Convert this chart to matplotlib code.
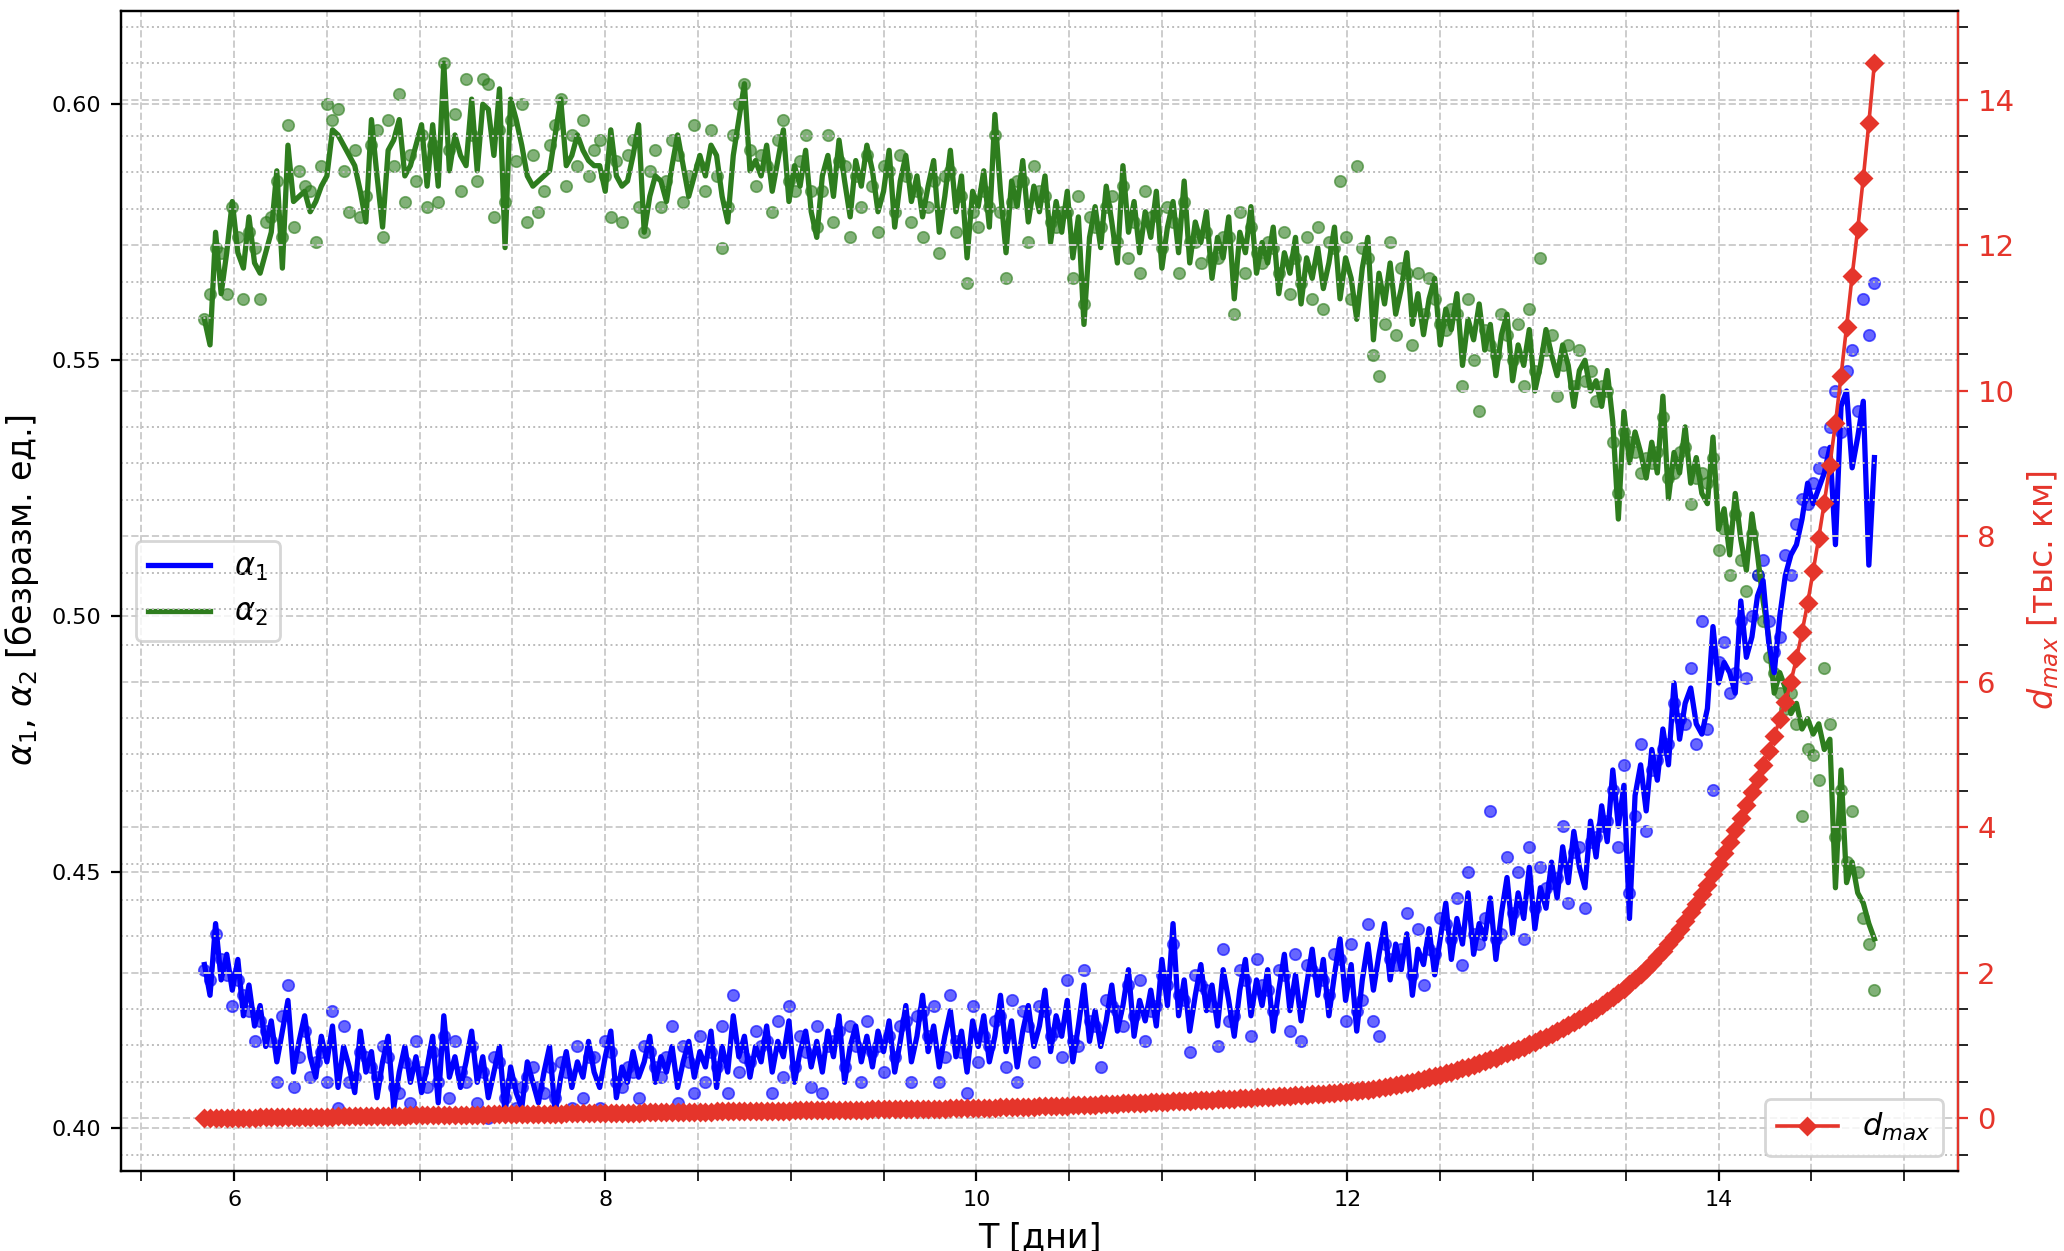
import matplotlib
matplotlib.use('Agg')
import matplotlib.pyplot as plt
from matplotlib.ticker import MultipleLocator

# time axis, days
t_days = [
    5.84, 5.87, 5.90, 5.93, 5.96, 5.99, 6.02, 6.05, 6.08, 6.11,
    6.14, 6.17, 6.20, 6.23, 6.26, 6.29, 6.32, 6.35, 6.38, 6.41,
    6.44, 6.47, 6.50, 6.53, 6.56, 6.59, 6.62, 6.65, 6.68, 6.71,
    6.74, 6.77, 6.80, 6.83, 6.86, 6.89, 6.92, 6.95, 6.98, 7.01,
    7.04, 7.07, 7.10, 7.13, 7.16, 7.19, 7.22, 7.25, 7.28, 7.31,
    7.34, 7.37, 7.40, 7.43, 7.46, 7.49, 7.52, 7.55, 7.58, 7.61,
    7.64, 7.67, 7.70, 7.73, 7.76, 7.79, 7.82, 7.85, 7.88, 7.91,
    7.94, 7.97, 8.00, 8.03, 8.06, 8.09, 8.12, 8.15, 8.18, 8.21,
    8.24, 8.27, 8.30, 8.33, 8.36, 8.39, 8.42, 8.45, 8.48, 8.51,
    8.54, 8.57, 8.60, 8.63, 8.66, 8.69, 8.72, 8.75, 8.78, 8.81,
    8.84, 8.87, 8.90, 8.93, 8.96, 8.99, 9.02, 9.05, 9.08, 9.11,
    9.14, 9.17, 9.20, 9.23, 9.26, 9.29, 9.32, 9.35, 9.38, 9.41,
    9.44, 9.47, 9.50, 9.53, 9.56, 9.59, 9.62, 9.65, 9.68, 9.71,
    9.74, 9.77, 9.80, 9.83, 9.86, 9.89, 9.92, 9.95, 9.98, 10.01,
    10.04, 10.07, 10.10, 10.13, 10.16, 10.19, 10.22, 10.25, 10.28, 10.31,
    10.34, 10.37, 10.40, 10.43, 10.46, 10.49, 10.52, 10.55, 10.58, 10.61,
    10.64, 10.67, 10.70, 10.73, 10.76, 10.79, 10.82, 10.85, 10.88, 10.91,
    10.94, 10.97, 11.00, 11.03, 11.06, 11.09, 11.12, 11.15, 11.18, 11.21,
    11.24, 11.27, 11.30, 11.33, 11.36, 11.39, 11.42, 11.45, 11.48, 11.51,
    11.54, 11.57, 11.60, 11.63, 11.66, 11.69, 11.72, 11.75, 11.78, 11.81,
    11.84, 11.87, 11.90, 11.93, 11.96, 11.99, 12.02, 12.05, 12.08, 12.11,
    12.14, 12.17, 12.20, 12.23, 12.26, 12.29, 12.32, 12.35, 12.38, 12.41,
    12.44, 12.47, 12.50, 12.53, 12.56, 12.59, 12.62, 12.65, 12.68, 12.71,
    12.74, 12.77, 12.80, 12.83, 12.86, 12.89, 12.92, 12.95, 12.98, 13.01,
    13.04, 13.07, 13.10, 13.13, 13.16, 13.19, 13.22, 13.25, 13.28, 13.31,
    13.34, 13.37, 13.40, 13.43, 13.46, 13.49, 13.52, 13.55, 13.58, 13.61,
    13.64, 13.67, 13.70, 13.73, 13.76, 13.79, 13.82, 13.85, 13.88, 13.91,
    13.94, 13.97, 14.00, 14.03, 14.06, 14.09, 14.12, 14.15, 14.18, 14.21,
    14.24, 14.27, 14.30, 14.33, 14.36, 14.39, 14.42, 14.45, 14.48, 14.51,
    14.54, 14.57, 14.60, 14.63, 14.66, 14.69, 14.72, 14.75, 14.78, 14.81,
    14.84,
]

alpha1_line = [
    0.432, 0.426, 0.440, 0.429, 0.434, 0.427, 0.433, 0.422, 0.428, 0.420,
    0.424, 0.416, 0.421, 0.413, 0.419, 0.425, 0.411, 0.417, 0.422, 0.414,
    0.410, 0.418, 0.413, 0.420, 0.408, 0.416, 0.412, 0.407, 0.419, 0.411,
    0.415, 0.406, 0.413, 0.418, 0.404, 0.411, 0.416, 0.409, 0.414, 0.407,
    0.412, 0.418, 0.405, 0.422, 0.410, 0.414, 0.408, 0.413, 0.419, 0.409,
    0.414, 0.406, 0.411, 0.416, 0.403, 0.412, 0.407, 0.404, 0.413, 0.409,
    0.405, 0.411, 0.416, 0.403, 0.410, 0.415, 0.408, 0.413, 0.410, 0.417,
    0.411, 0.408, 0.414, 0.419, 0.406, 0.412, 0.409, 0.415, 0.410, 0.413,
    0.418, 0.409, 0.414, 0.411, 0.416, 0.408, 0.413, 0.417, 0.410, 0.415,
    0.412, 0.419, 0.408, 0.416, 0.411, 0.422, 0.414, 0.418, 0.410, 0.416,
    0.413, 0.420, 0.411, 0.417, 0.414, 0.421, 0.409, 0.415, 0.419, 0.412,
    0.417, 0.411, 0.419, 0.414, 0.422, 0.409, 0.416, 0.420, 0.413, 0.418,
    0.412, 0.419, 0.415, 0.421, 0.411, 0.417, 0.424, 0.413, 0.418, 0.426,
    0.415, 0.420, 0.412, 0.418, 0.423, 0.414, 0.419, 0.411, 0.421, 0.416,
    0.422, 0.413, 0.418, 0.426, 0.415, 0.421, 0.412, 0.419, 0.424, 0.416,
    0.420, 0.427, 0.415, 0.422, 0.418, 0.425, 0.413, 0.420, 0.428, 0.417,
    0.423, 0.416, 0.421, 0.428, 0.419, 0.424, 0.431, 0.418, 0.425, 0.421,
    0.427, 0.420, 0.433, 0.424, 0.440, 0.422, 0.429, 0.419, 0.426, 0.432,
    0.423, 0.428, 0.420, 0.431, 0.425, 0.418, 0.427, 0.433, 0.422, 0.429,
    0.424, 0.431, 0.419, 0.427, 0.434, 0.423, 0.430, 0.421, 0.428, 0.435,
    0.426, 0.433, 0.422, 0.430, 0.437, 0.425, 0.432, 0.419, 0.429, 0.436,
    0.427, 0.434, 0.440, 0.429, 0.436, 0.431, 0.438, 0.426, 0.435, 0.432,
    0.439, 0.430, 0.437, 0.444, 0.433, 0.441, 0.436, 0.446, 0.434, 0.440,
    0.437, 0.445, 0.433, 0.442, 0.449, 0.438, 0.446, 0.441, 0.451, 0.439,
    0.447, 0.443, 0.452, 0.445, 0.455, 0.448, 0.458, 0.451, 0.447, 0.460,
    0.453, 0.463, 0.456, 0.470, 0.459, 0.467, 0.441, 0.465, 0.471, 0.462,
    0.474, 0.468, 0.478, 0.471, 0.487, 0.476, 0.483, 0.486, 0.479, 0.477,
    0.482, 0.498, 0.487, 0.491, 0.489, 0.485, 0.503, 0.492, 0.496, 0.504,
    0.507, 0.495, 0.489, 0.500, 0.508, 0.512, 0.514, 0.519, 0.526, 0.522,
    0.525, 0.528, 0.533, 0.514, 0.541, 0.544, 0.529, 0.535, 0.542, 0.510,
    0.531,
]

alpha1_pts = [
    0.431, 0.429, 0.438, 0.433, 0.430, 0.424, 0.429, 0.426, 0.423, 0.417,
    0.421, 0.419, 0.417, 0.409, 0.422, 0.428, 0.408, 0.414, 0.419, 0.410,
    0.413, 0.415, 0.409, 0.423, 0.404, 0.420, 0.409, 0.410, 0.415, 0.414,
    0.412, 0.410, 0.416, 0.414, 0.408, 0.407, 0.413, 0.405, 0.417, 0.411,
    0.408, 0.415, 0.409, 0.418, 0.406, 0.417, 0.411, 0.409, 0.416, 0.405,
    0.411, 0.402, 0.414, 0.413, 0.406, 0.409, 0.404, 0.408, 0.410, 0.412,
    0.408, 0.407, 0.412, 0.406, 0.413, 0.411, 0.404, 0.416, 0.406, 0.414,
    0.414, 0.404, 0.417, 0.415, 0.409, 0.408, 0.412, 0.411, 0.406, 0.416,
    0.415, 0.412, 0.410, 0.414, 0.420, 0.405, 0.416, 0.413, 0.407, 0.418,
    0.409, 0.415, 0.412, 0.420, 0.407, 0.426, 0.411, 0.414, 0.413, 0.419,
    0.416, 0.417, 0.407, 0.421, 0.410, 0.424, 0.412, 0.418, 0.415, 0.408,
    0.420, 0.407, 0.416, 0.417, 0.419, 0.412, 0.420, 0.416, 0.409, 0.421,
    0.415, 0.416, 0.411, 0.418, 0.414, 0.420, 0.421, 0.409, 0.422, 0.423,
    0.418, 0.424, 0.409, 0.414, 0.426, 0.417, 0.415, 0.407, 0.424, 0.413,
    0.418, 0.416, 0.421, 0.422, 0.412, 0.425, 0.409, 0.423, 0.420, 0.413,
    0.424, 0.423, 0.418, 0.419, 0.414, 0.429, 0.417, 0.416, 0.431, 0.421,
    0.420, 0.412, 0.425, 0.424, 0.423, 0.420, 0.428, 0.422, 0.429, 0.417,
    0.423, 0.424, 0.430, 0.428, 0.436, 0.426, 0.425, 0.415, 0.430, 0.428,
    0.427, 0.424, 0.416, 0.435, 0.421, 0.422, 0.431, 0.429, 0.418, 0.433,
    0.428, 0.427, 0.423, 0.431, 0.430, 0.419, 0.434, 0.417, 0.432, 0.431,
    0.430, 0.429, 0.426, 0.434, 0.433, 0.421, 0.436, 0.423, 0.425, 0.440,
    0.421, 0.418, 0.436, 0.433, 0.432, 0.435, 0.442, 0.430, 0.439, 0.428,
    0.435, 0.434, 0.441, 0.440, 0.437, 0.445, 0.432, 0.450, 0.438, 0.436,
    0.441, 0.462, 0.437, 0.438, 0.453, 0.442, 0.450, 0.437, 0.455, 0.443,
    0.451, 0.447, 0.448, 0.449, 0.459, 0.444, 0.454, 0.455, 0.443, 0.456,
    0.457, 0.459, 0.460, 0.466, 0.455, 0.471, 0.446, 0.461, 0.475, 0.458,
    0.470, 0.472, 0.474, 0.475, 0.483, 0.480, 0.479, 0.490, 0.475, 0.499,
    0.478, 0.466, 0.491, 0.495, 0.485, 0.489, 0.499, 0.488, 0.500, 0.508,
    0.511, 0.499, 0.493, 0.496, 0.512, 0.508, 0.518, 0.523, 0.522, 0.526,
    0.529, 0.532, 0.537, 0.544, 0.536, 0.548, 0.552, 0.540, 0.562, 0.555,
    0.565,
]

alpha2_line = [
    0.558, 0.553, 0.575, 0.563, 0.571, 0.581, 0.571, 0.568, 0.578, 0.569,
    0.567, 0.571, 0.575, 0.587, 0.568, 0.592, 0.581, 0.582, 0.583, 0.579,
    0.581, 0.584, 0.586, 0.595, 0.594, 0.592, 0.590, 0.588, 0.583, 0.577,
    0.597, 0.586, 0.576, 0.591, 0.593, 0.597, 0.586, 0.588, 0.592, 0.596,
    0.584, 0.596, 0.584, 0.608, 0.587, 0.594, 0.590, 0.588, 0.601, 0.587,
    0.600, 0.599, 0.590, 0.603, 0.572, 0.601, 0.597, 0.592, 0.586, 0.584,
    0.585, 0.586, 0.587, 0.594, 0.601, 0.588, 0.590, 0.594, 0.591, 0.589,
    0.588, 0.588, 0.583, 0.595, 0.586, 0.584, 0.585, 0.590, 0.596, 0.575,
    0.582, 0.586, 0.585, 0.581, 0.588, 0.594, 0.588, 0.582, 0.586, 0.590,
    0.586, 0.592, 0.590, 0.582, 0.577, 0.590, 0.597, 0.604, 0.587, 0.589,
    0.586, 0.592, 0.583, 0.589, 0.595, 0.581, 0.588, 0.584, 0.591, 0.579,
    0.574, 0.586, 0.590, 0.582, 0.593, 0.585, 0.578, 0.589, 0.584, 0.592,
    0.587, 0.579, 0.583, 0.591, 0.576, 0.585, 0.590, 0.581, 0.586, 0.578,
    0.584, 0.589, 0.575, 0.582, 0.591, 0.579, 0.586, 0.570, 0.583, 0.580,
    0.587, 0.576, 0.598, 0.583, 0.571, 0.585, 0.580, 0.589, 0.577, 0.584,
    0.579, 0.586, 0.573, 0.581, 0.575, 0.583, 0.570, 0.578, 0.557, 0.574,
    0.580, 0.572, 0.584, 0.577, 0.569, 0.588, 0.575, 0.581, 0.571, 0.579,
    0.574, 0.583, 0.568, 0.576, 0.581, 0.571, 0.585, 0.569, 0.577, 0.573,
    0.579, 0.566, 0.574, 0.570, 0.578, 0.562, 0.575, 0.571, 0.580, 0.567,
    0.573, 0.569, 0.576, 0.563, 0.571, 0.567, 0.574, 0.561, 0.570, 0.566,
    0.572, 0.564, 0.569, 0.576, 0.562, 0.570, 0.566, 0.558, 0.568, 0.574,
    0.554, 0.567, 0.561, 0.569, 0.559, 0.564, 0.571, 0.557, 0.563, 0.555,
    0.562, 0.566, 0.553, 0.560, 0.556, 0.563, 0.549, 0.558, 0.554, 0.561,
    0.552, 0.557, 0.547, 0.555, 0.559, 0.546, 0.553, 0.549, 0.556, 0.544,
    0.549, 0.556, 0.551, 0.547, 0.553, 0.549, 0.541, 0.548, 0.550, 0.544,
    0.546, 0.541, 0.548, 0.538, 0.519, 0.540, 0.530, 0.536, 0.532, 0.527,
    0.534, 0.528, 0.543, 0.523, 0.532, 0.528, 0.537, 0.526, 0.531, 0.524,
    0.522, 0.535, 0.517, 0.521, 0.512, 0.524, 0.515, 0.509, 0.520, 0.512,
    0.503, 0.496, 0.485, 0.489, 0.486, 0.481, 0.483, 0.478, 0.480, 0.477,
    0.479, 0.474, 0.476, 0.447, 0.470, 0.448, 0.452, 0.446, 0.444, 0.440,
    0.437,
]

alpha2_pts = [
    0.558, 0.563, 0.572, 0.571, 0.563, 0.580, 0.574, 0.562, 0.575, 0.572,
    0.562, 0.577, 0.578, 0.585, 0.574, 0.596, 0.576, 0.587, 0.584, 0.583,
    0.573, 0.588, 0.600, 0.597, 0.599, 0.587, 0.579, 0.591, 0.578, 0.582,
    0.592, 0.595, 0.574, 0.597, 0.588, 0.602, 0.581, 0.590, 0.585, 0.594,
    0.580, 0.592, 0.581, 0.608, 0.591, 0.598, 0.583, 0.605, 0.594, 0.585,
    0.605, 0.604, 0.578, 0.595, 0.581, 0.597, 0.589, 0.600, 0.577, 0.590,
    0.579, 0.583, 0.592, 0.596, 0.601, 0.584, 0.594, 0.588, 0.597, 0.586,
    0.591, 0.593, 0.586, 0.578, 0.589, 0.577, 0.590, 0.593, 0.580, 0.575,
    0.587, 0.591, 0.580, 0.585, 0.593, 0.590, 0.581, 0.586, 0.596, 0.588,
    0.583, 0.595, 0.586, 0.572, 0.580, 0.594, 0.600, 0.604, 0.591, 0.584,
    0.590, 0.588, 0.579, 0.593, 0.597, 0.585, 0.583, 0.589, 0.594, 0.583,
    0.576, 0.583, 0.594, 0.577, 0.589, 0.588, 0.574, 0.586, 0.580, 0.590,
    0.584, 0.575, 0.588, 0.587, 0.579, 0.590, 0.586, 0.577, 0.583, 0.574,
    0.580, 0.585, 0.571, 0.586, 0.587, 0.575, 0.582, 0.565, 0.579, 0.576,
    0.583, 0.580, 0.594, 0.579, 0.566, 0.581, 0.585, 0.585, 0.573, 0.588,
    0.583, 0.582, 0.577, 0.576, 0.579, 0.579, 0.566, 0.582, 0.561, 0.578,
    0.576, 0.576, 0.580, 0.582, 0.573, 0.584, 0.570, 0.577, 0.567, 0.583,
    0.578, 0.579, 0.572, 0.580, 0.577, 0.567, 0.581, 0.573, 0.573, 0.569,
    0.575, 0.570, 0.570, 0.574, 0.574, 0.559, 0.579, 0.567, 0.576, 0.571,
    0.569, 0.573, 0.572, 0.567, 0.575, 0.563, 0.570, 0.565, 0.574, 0.562,
    0.576, 0.560, 0.573, 0.572, 0.585, 0.574, 0.562, 0.588, 0.572, 0.570,
    0.551, 0.547, 0.557, 0.573, 0.555, 0.568, 0.567, 0.553, 0.567, 0.559,
    0.566, 0.562, 0.557, 0.556, 0.560, 0.559, 0.545, 0.562, 0.550, 0.540,
    0.556, 0.553, 0.551, 0.559, 0.555, 0.550, 0.557, 0.545, 0.560, 0.548,
    0.570, 0.552, 0.555, 0.543, 0.549, 0.553, 0.545, 0.552, 0.546, 0.548,
    0.542, 0.545, 0.544, 0.534, 0.524, 0.536, 0.534, 0.532, 0.528, 0.531,
    0.530, 0.532, 0.539, 0.527, 0.528, 0.532, 0.533, 0.522, 0.527, 0.528,
    0.526, 0.531, 0.513, 0.517, 0.508, 0.520, 0.511, 0.505, 0.516, 0.508,
    0.499, 0.492, 0.489, 0.485, 0.482, 0.485, 0.479, 0.461, 0.474, 0.473,
    0.468, 0.490, 0.479, 0.457, 0.466, 0.452, 0.462, 0.450, 0.441, 0.436,
    0.427,
]

# maximum distance, thousand km
d_max = [
    0.000, 0.001, 0.002, 0.003, 0.004, 0.005, 0.006, 0.007, 0.008, 0.009,
    0.010, 0.011, 0.012, 0.013, 0.014, 0.015, 0.016, 0.017, 0.018, 0.019,
    0.020, 0.021, 0.022, 0.023, 0.024, 0.025, 0.026, 0.027, 0.028, 0.029,
    0.030, 0.031, 0.032, 0.033, 0.034, 0.035, 0.036, 0.037, 0.038, 0.039,
    0.040, 0.041, 0.042, 0.043, 0.044, 0.045, 0.046, 0.047, 0.048, 0.049,
    0.050, 0.051, 0.052, 0.053, 0.054, 0.055, 0.056, 0.057, 0.058, 0.059,
    0.060, 0.061, 0.062, 0.063, 0.064, 0.065, 0.066, 0.067, 0.068, 0.069,
    0.070, 0.071, 0.072, 0.073, 0.074, 0.075, 0.076, 0.077, 0.078, 0.079,
    0.080, 0.081, 0.082, 0.083, 0.084, 0.085, 0.086, 0.087, 0.088, 0.089,
    0.090, 0.091, 0.092, 0.093, 0.094, 0.095, 0.096, 0.097, 0.098, 0.099,
    0.100, 0.101, 0.102, 0.103, 0.104, 0.105, 0.106, 0.107, 0.108, 0.109,
    0.110, 0.111, 0.112, 0.113, 0.114, 0.115, 0.116, 0.117, 0.118, 0.119,
    0.120, 0.121, 0.122, 0.123, 0.124, 0.125, 0.126, 0.127, 0.128, 0.129,
    0.130, 0.131, 0.132, 0.133, 0.134, 0.135, 0.136, 0.137, 0.138, 0.139,
    0.141, 0.143, 0.145, 0.147, 0.149, 0.151, 0.153, 0.155, 0.157, 0.159,
    0.161, 0.163, 0.166, 0.168, 0.171, 0.173, 0.176, 0.178, 0.181, 0.184,
    0.187, 0.190, 0.193, 0.196, 0.199, 0.202, 0.205, 0.208, 0.212, 0.215,
    0.218, 0.221, 0.225, 0.228, 0.232, 0.235, 0.239, 0.243, 0.247, 0.251,
    0.252, 0.256, 0.259, 0.263, 0.266, 0.270, 0.274, 0.278, 0.282, 0.286,
    0.290, 0.294, 0.298, 0.302, 0.306, 0.310, 0.314, 0.318, 0.322, 0.326,
    0.331, 0.336, 0.342, 0.348, 0.355, 0.362, 0.369, 0.377, 0.385, 0.394,
    0.404, 0.416, 0.428, 0.441, 0.455, 0.470, 0.486, 0.503, 0.521, 0.540,
    0.560, 0.580, 0.600, 0.620, 0.641, 0.662, 0.684, 0.707, 0.731, 0.756,
    0.781, 0.807, 0.834, 0.862, 0.891, 0.921, 0.952, 0.984, 1.017, 1.051,
    1.086, 1.122, 1.159, 1.197, 1.237, 1.278, 1.320, 1.364, 1.410, 1.457,
    1.506, 1.557, 1.610, 1.665, 1.722, 1.782, 1.845, 1.911, 1.980, 2.052,
    2.13, 2.21, 2.30, 2.39, 2.49, 2.60, 2.71, 2.83, 2.95, 3.08,
    3.21, 3.35, 3.49, 3.64, 3.80, 3.96, 4.13, 4.30, 4.48, 4.66,
    4.85, 5.05, 5.26, 5.48, 5.72, 6.00, 6.32, 6.68, 7.08, 7.52,
    7.98, 8.46, 8.98, 9.55, 10.20, 10.88, 11.58, 12.22, 12.92, 13.68,
    14.50,
]

BLUE = '#0000ff'
GREEN = '#2e7d1e'
RED = '#e5352b'
GRID = '#cdcdcd'


def main():
    fig, ax = plt.subplots(figsize=(10.32, 6.255), dpi=200)
    fig.subplots_adjust(left=0.0586, right=0.9486, bottom=0.064, top=0.9916)

    # alpha curves: points + line
    ax.scatter(t_days, alpha2_pts, s=17, color=GREEN, alpha=0.6, linewidths=0.6, zorder=2)
    line2, = ax.plot(t_days, alpha2_line, color=GREEN, lw=1.9, zorder=3, label=r'$\alpha_2$')
    ax.scatter(t_days, alpha1_pts, s=17, color=BLUE, alpha=0.6, linewidths=0.6, zorder=2)
    line1, = ax.plot(t_days, alpha1_line, color=BLUE, lw=1.9, zorder=3, label=r'$\alpha_1$')

    ax.set_xlabel('T [дни]', fontsize=12)
    ax.set_ylabel(r'$\alpha_1$, $\alpha_2$ [безразм. ед.]', fontsize=12)
    ax.xaxis.set_major_locator(MultipleLocator(2))
    ax.xaxis.set_minor_locator(MultipleLocator(0.5))
    ax.yaxis.set_major_locator(MultipleLocator(0.05))
    ax.tick_params(axis='both', which='both', length=3.5, labelsize=8)
    ax.grid(which='both', axis='x', ls='--', color=GRID, lw=0.7)
    ax.grid(which='major', axis='y', ls='--', color=GRID, lw=0.7)
    ax.legend(handles=[line1, line2], loc='center left', fontsize=11)

    # d_max on the right axis
    ax2 = ax.twinx()
    ax2.plot(t_days, d_max, color=RED, lw=1.3, marker='D', ms=4.0, label=r'$d_{max}$')
    ax2.set_ylabel(r'$d_{max}$ [тыс. км]', color=RED, fontsize=12)
    ax2.yaxis.set_major_locator(MultipleLocator(2))
    ax2.yaxis.set_minor_locator(MultipleLocator(0.5))
    ax2.tick_params(axis='y', which='both', length=3.5)
    ax2.tick_params(axis='y', which='major', colors=RED, labelsize=10.5)
    ax2.spines['right'].set_color(RED)
    ax2.grid(which='major', ls='--', color=GRID, lw=0.7)
    ax2.grid(which='minor', ls=':', color='#bcbcbc', lw=0.7)
    ax2.legend(loc='lower right', fontsize=11)

    fig.savefig('out.png', dpi=200)


if __name__ == "__main__":
    main()
